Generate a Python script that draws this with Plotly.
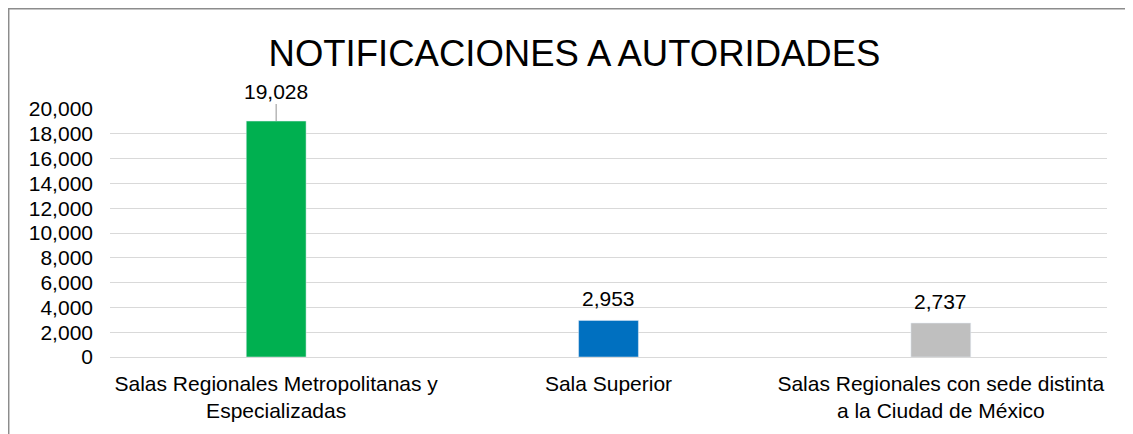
import plotly.graph_objects as go

categories = ["Salas Regionales Metropolitanas y<br>Especializadas",
              "Sala Superior",
              "Salas Regionales con sede distinta<br>a la Ciudad de México"]
values = [19028, 2953, 2737]
colors = ["#00B050", "#0070C0", "#BFBFBF"]
tick_vals = list(range(0, 20001, 2000))
tick_text = [f"{v:,}" for v in tick_vals]
title_text = "NOTIFICACIONES A AUTORIDADES"

FONT = "Liberation Sans, Arial, sans-serif"

fig = go.Figure()
fig.add_trace(go.Bar(
    x=categories, y=values, marker_color=colors, width=0.18,
    hoverinfo="skip",
))

for i, (c, v) in enumerate(zip(categories, values)):
    if i == 0:
        fig.add_annotation(x=c, y=v, text=f"{v:,}", showarrow=True,
                           ax=0, ay=-30, arrowhead=0, arrowwidth=1.2,
                           arrowcolor="#A6A6A6", standoff=0,
                           font=dict(size=21, color="#000000", family=FONT))
    else:
        fig.add_annotation(x=c, y=v, text=f"{v:,}", showarrow=False,
                           yanchor="middle", yshift=22,
                           font=dict(size=21, color="#000000", family=FONT))

# chart border (Excel chart area outline; right/bottom edges fall outside the view)
fig.add_shape(type="path", xref="paper", yref="paper",
              path="M -0.1016,-0.5 L -0.1016,1.404 L 1.2,1.404",
              line=dict(color="#8C8C8C", width=1.5),
              layer="below")

fig.update_layout(
    width=1133, height=434,
    margin=dict(l=102, r=34, t=101, b=85),
    paper_bgcolor="white", plot_bgcolor="white",
    title=dict(text=title_text, x=0.5, xanchor="center", y=0.895, yanchor="middle",
               font=dict(size=36.5, color="#000000", family=FONT)),
    showlegend=False,
    bargap=0.82,
    xaxis=dict(showgrid=False, showline=False, ticks="", automargin=False,
               ticklabelstandoff=12,
               tickfont=dict(size=21, color="#000000", family=FONT)),
    yaxis=dict(range=[0, 20000], tickvals=tick_vals, ticktext=tick_text,
               showgrid=True, gridcolor="#D9D9D9", gridwidth=1,
               zeroline=True, zerolinecolor="#D9D9D9", zerolinewidth=1,
               showline=False, ticks="", ticklabelstandoff=16, automargin=False,
               tickfont=dict(size=21, color="#000000", family=FONT)),
)

fig.write_html("out.html")
